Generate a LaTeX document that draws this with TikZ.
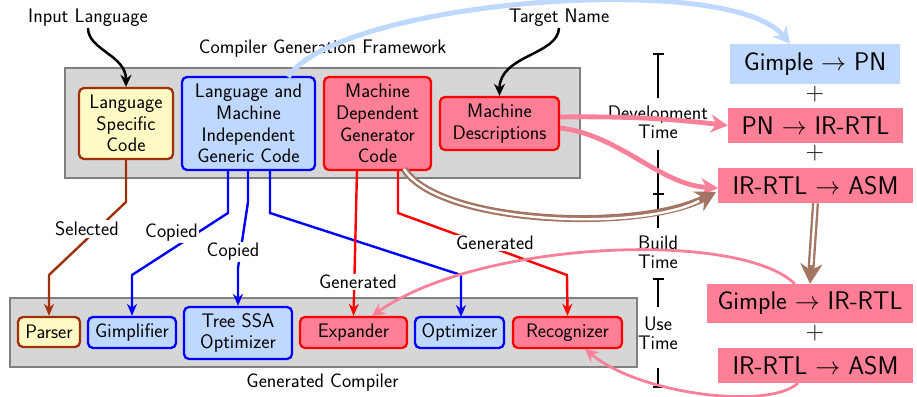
\documentclass[tikz,border=0pt]{standalone}
\usepackage{fontspec}
\usetikzlibrary{arrows.meta}
\definecolor{pk}{RGB}{255,128,150}
\definecolor{pkarr}{RGB}{248,128,152}
\definecolor{lb}{RGB}{191,216,255}
\definecolor{ylw}{RGB}{255,249,196}
\definecolor{brn}{RGB}{160,48,10}
\definecolor{brnarr}{RGB}{165,117,100}
\definecolor{gfl}{RGB}{214,214,214}
\definecolor{gbd}{RGB}{128,128,128}
\newcommand{\nfont}{\sffamily\fontsize{19.6}{21.7}\selectfont}
\newcommand{\bigfnt}{\sffamily\fontsize{25.5}{30}\selectfont}
\newcommand{\tlfont}{\sffamily\fontsize{19.6}{19}\selectfont}
\tikzset{
  box/.style={draw, rounded corners=5pt, line width=2.3pt, align=center, inner sep=0pt},
  ybox/.style={box, draw=brn, fill=ylw},
  bbox/.style={box, draw=blue, fill=lb},
  rbox/.style={box, draw=red, fill=pk},
  frm/.style={draw=gbd, fill=gfl, line width=2.6pt, inner sep=0pt},
  bigbox/.style={font=\bigfnt, inner sep=0pt},
  lbl/.style={fill=white, inner sep=1.5pt},
  tlab/.style={font=\tlfont, align=center, inner sep=0pt},
  tline/.style={line width=1.4pt},
  blk/.style={line width=2.5pt, -{Stealth[length=12pt,width=11pt]}},
  conn/.style={line width=2.4pt, -{Stealth[length=12pt,width=10pt]}},
  pkthick/.style={draw=pkarr, line width=4.8pt, -{Stealth[length=17pt,width=18pt]}},
  pkthin/.style={draw=pkarr, line width=2.8pt, -{Stealth[length=13pt,width=13pt]}},
  brouter/.style={draw=brnarr, line width=7pt, -{Stealth[length=20pt,width=22pt]}},
  brinner/.style={draw=white, line width=2.4pt, shorten >=19pt},
}
\begin{document}
\begin{tikzpicture}[x=1pt,y=-1pt,font=\nfont]
\useasboundingbox (0,0) rectangle (917,396);

% frames
\node[frm, minimum width=515, minimum height=110] (topf) at (322.5,123) {};
\node[frm, minimum width=627, minimum height=69] (botf) at (323.5,332.5) {};
\node (cgf) at (322.5,49) {Compiler Generation Framework};
\node (gc) at (322.5,383) {Generated Compiler};

% top boxes
\node[ybox, minimum width=94, minimum height=71] (lsc) at (126,123.5) {Language\\Specific\\Code};
\node[bbox, minimum width=133, minimum height=93] (lam) at (248.5,123.5) {Language and\\Machine\\Independent\\Generic Code};
\node[rbox, minimum width=107, minimum height=93] (mdg) at (377.5,123.5) {Machine\\Dependent\\Generator\\Code};
\node[rbox, minimum width=119, minimum height=53] (md) at (499.5,123.5) {Machine\\Descriptions};

% bottom boxes
\node[ybox, minimum width=62, minimum height=30] (par) at (49,332) {Parser};
\node[bbox, minimum width=88, minimum height=31] (gim) at (132,332.5) {Gimplifier};
\node[bbox, minimum width=108, minimum height=52] (tssa) at (238,333) {Tree SSA\\Optimizer};
\node[rbox, minimum width=107, minimum height=31] (exp) at (353.5,332.5) {Expander};
\node[bbox, minimum width=89, minimum height=31] (opt) at (459.5,332.5) {Optimizer};
\node[rbox, minimum width=109, minimum height=31] (rec) at (567.5,332.5) {Recognizer};

% right boxes
\node[bigbox, fill=lb, minimum width=170, minimum height=40] (gpn) at (815,64) {Gimple $\rightarrow$ PN};
\node[bigbox] (p1) at (815,94) {+};
\node[bigbox, fill=pk, minimum width=175, minimum height=35] (pnir) at (815.5,125.5) {PN $\rightarrow$ IR-RTL};
\node[bigbox] (p2) at (815,153) {+};
\node[bigbox, fill=pk, minimum width=195, minimum height=35] (asm1) at (815.5,185.5) {IR-RTL $\rightarrow$ ASM};
\node[bigbox, fill=pk, minimum width=206, minimum height=39] (gir) at (810,303.5) {Gimple $\rightarrow$ IR-RTL};
\node[bigbox] (p3) at (815,333) {+};
\node[bigbox, fill=pk, minimum width=195, minimum height=35] (asm2) at (815.5,365.5) {IR-RTL $\rightarrow$ ASM};

% timeline
\node[tlab] (dev) at (658,122) {Development\\Time};
\node[tlab] (bld) at (658,252) {Build\\Time};
\node[tlab] (use) at (658,333) {Use\\Time};
\coordinate (t0) at (658,54);
\coordinate (t1a) at (658,98);
\coordinate (t1b) at (658,150);
\coordinate (t1) at (658,194);
\coordinate (t2a) at (658,228);
\coordinate (t2) at (658,279);
\coordinate (t3a) at (658,307);
\coordinate (t3b) at (658,368);
\coordinate (t3) at (658,387);
\draw[tline] (t0) -- (t1a) (t1b) -- (t2a) (t2) -- (t3a) (t3b) -- (t3);
\draw[tline] ([xshift=-5.5pt]t0) -- ([xshift=5.5pt]t0);
\draw[tline] ([xshift=-5.5pt]t1) -- ([xshift=5.5pt]t1);
\draw[tline] ([xshift=-5.5pt]t2) -- ([xshift=5.5pt]t2);
\draw[tline] ([xshift=-5.5pt]t3) -- ([xshift=5.5pt]t3);

% inputs
\node[inner sep=1pt] (il) at (88,18) {Input Language};
\node[inner sep=1pt] (tn) at (559,18) {Target Name};
\draw[blk] (il.south) .. controls (88,50) and (126,55) .. (lsc.north);
\draw[blk] (tn.south) .. controls (558,55) and (499.5,55) .. (md.north);

% connectors top -> bottom
\draw[conn, draw=brn] (lsc.south) -- (126,202) -- (49,275) -- (par.north);
\node[lbl] at (87,229) {Selected};
\draw[conn, draw=blue] (228,170) -- (228,213) -- (132,275) -- (gim.north);
\node[lbl] at (171.5,233) {Copied};
\draw[conn, draw=blue] (248,170) -- (248,202) -- (238,268) -- (tssa.north);
\node[lbl] at (233,252) {Copied};
\draw[conn, draw=blue] (270,170) -- (270,213) -- (461,275) -- (461,317);
\draw[conn, draw=red] (357,170) -- (exp.north);
\node[lbl] at (358,282) {Generated};
\draw[conn, draw=red] (398,170) -- (398,213) -- (567,275) -- (rec.north);
\node[lbl] at (495,243) {Generated};

% light blue arrow
\draw[draw=lb, line width=5pt, -{Stealth[length=17pt,width=18pt]}] (288,77) .. controls (340,0) and (730,-30) .. (790,44);

% pink thick arrows
\draw[pkthick] (560,117) .. controls (640,116) and (680,120) .. (pnir.west);
\draw[pkthick] (560,128) .. controls (620,135) and (660,185) .. (718,188);

% brown double arrows
\draw[brouter] (404,169) .. controls (440,225) and (640,232) .. (716,192);
\draw[brinner] (404,169) .. controls (440,225) and (640,232) .. (716,192);
\draw[brouter] (asm1.south) -- (gir.north);
\draw[brinner] (asm1.south) -- (gir.north);

% pink thin arrows
\draw[pkthin] (795,284) .. controls (740,230) and (480,240) .. (372,316);
\draw[pkthin] (798,383) .. controls (770,410) and (640,395) .. (585,349);
\end{tikzpicture}
\end{document}
